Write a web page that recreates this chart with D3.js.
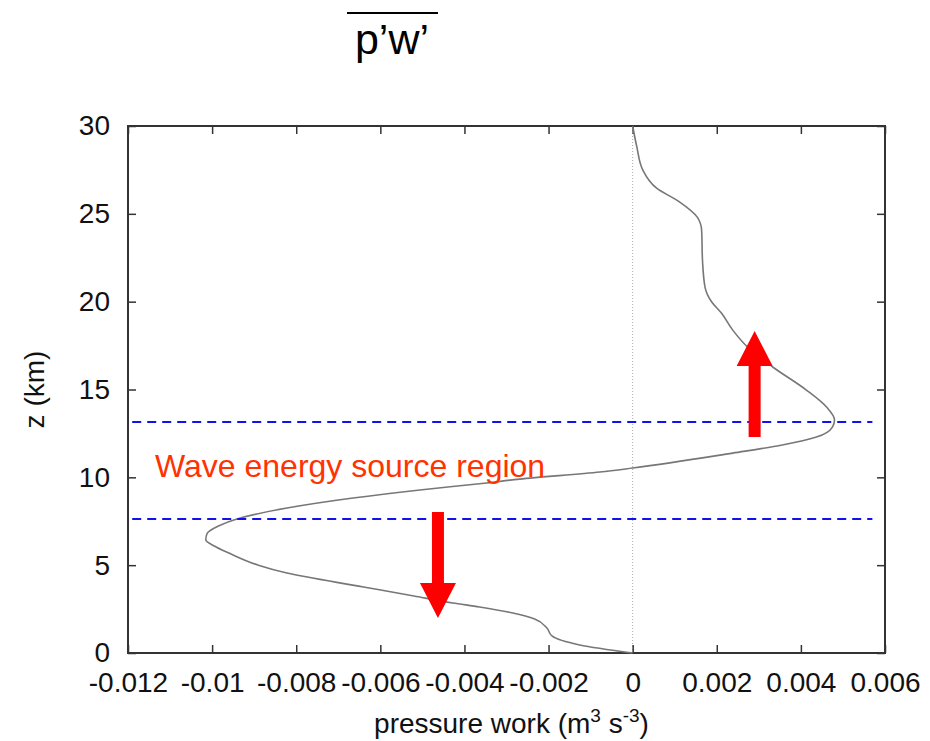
<!DOCTYPE html>
<html>
<head>
<meta charset="utf-8">
<script src="https://cdn.jsdelivr.net/npm/d3@7"></script>
<style>
  html, body { margin: 0; padding: 0; background: #fff; }
  svg { display: block; font-family: "Liberation Sans", Arial, Helvetica, sans-serif; }
</style>
</head>
<body>
<svg id="chart" width="930" height="741"></svg>
<script>
// ---- data ----
const heightKm = [0, 0.46, 0.97, 1.42, 1.94, 2.28, 2.62, 2.85, 3.24, 3.76, 4.55, 5.0, 5.69, 6.09, 6.45, 6.8, 7.23, 7.63, 8.25, 8.82, 9.28, 9.68, 9.9, 10.3, 10.53, 11.38, 11.84, 12.29, 12.86, 13.26, 14.0, 14.97, 16.28, 17.42, 18.38, 19.35, 19.98, 20.83, 22.36, 24.07, 24.8, 25.67, 26.46, 27.5, 28.8, 30];
const pressureWork = [0, -0.00126, -0.00192, -0.00204, -0.00233, -0.00285, -0.00364, -0.00428, -0.0052, -0.0064, -0.00822, -0.0089, -0.0096, -0.00995, -0.01015, -0.01012, -0.00985, -0.00941, -0.00822, -0.00665, -0.00506, -0.00347, -0.00269, -0.00078, 0, 0.00238, 0.00356, 0.00437, 0.00475, 0.0048, 0.00461, 0.00413, 0.00333, 0.00273, 0.00238, 0.00211, 0.00188, 0.00172, 0.00166, 0.00164, 0.00154, 0.00112, 0.00057, 0.00024, 0.0001, 0];
const xTicks = [-0.012, -0.01, -0.008, -0.006, -0.004, -0.002, 0, 0.002, 0.004, 0.006];
const xTickLabels = ["-0.012", "-0.01", "-0.008", "-0.006", "-0.004", "-0.002", "0", "0.002", "0.004", "0.006"];
const yTicks = [0, 5, 10, 15, 20, 25, 30];
const sourceBounds = [7.63, 13.15];          // dashed lines (km)
const arrowX = [0.0029, -0.00463];           // arrow positions (pressure work)
const arrowFrom = [12.29, 8.02];             // arrow tail (km)
const arrowTo = [18.33, 1.99];               // arrow tip (km)
const titleText = "p\u2019w\u2019";
const annotationText = "Wave energy source region";

// ---- layout ----
const svg = d3.select("#chart");
const L = 128, R = 885, T = 126, B = 653;
const x = d3.scaleLinear().domain([-0.012, 0.006]).range([L, R]);
const y = d3.scaleLinear().domain([0, 30]).range([B, T]);

const frameColor = "#333";
const tickLen = 8;

// zero line (dotted)
svg.append("line")
  .attr("x1", x(0)).attr("x2", x(0)).attr("y1", y(0)).attr("y2", y(30))
  .attr("stroke", "#aaa").attr("stroke-width", 1).attr("stroke-dasharray", "1,2");

// axes with inward ticks
const fmt = d => xTickLabels[xTicks.indexOf(d)];
const gB = svg.append("g").attr("transform", `translate(0,${B})`)
  .call(d3.axisBottom(x).tickValues(xTicks).tickFormat(fmt).tickSizeInner(-tickLen).tickSizeOuter(0).tickPadding(19));
const gT = svg.append("g").attr("transform", `translate(0,${T})`)
  .call(d3.axisTop(x).tickValues(xTicks).tickFormat("").tickSizeInner(-tickLen).tickSizeOuter(0));
const gL = svg.append("g").attr("transform", `translate(${L},0)`)
  .call(d3.axisLeft(y).tickValues(yTicks).tickFormat(d3.format("d")).tickSizeInner(-tickLen).tickSizeOuter(0).tickPadding(18));
const gR = svg.append("g").attr("transform", `translate(${R},0)`)
  .call(d3.axisRight(y).tickValues(yTicks).tickFormat("").tickSizeInner(-tickLen).tickSizeOuter(0));
[gB, gT, gL, gR].forEach(g => {
  g.select(".domain").remove();
  g.selectAll(".tick line").attr("stroke", frameColor).attr("stroke-width", 1.5);
  g.selectAll(".tick text").attr("fill", "#111").attr("font-size", 28)
    .attr("font-family", "'Liberation Sans', Arial, sans-serif");
});

// frame
svg.append("rect").attr("x", L).attr("y", T).attr("width", R - L).attr("height", B - T)
  .attr("fill", "none").attr("stroke", frameColor).attr("stroke-width", 2);

// profile curve
const line = d3.line().x(d => x(d[1])).y(d => y(d[0])).curve(d3.curveMonotoneY);
svg.append("path")
  .datum(heightKm.map((h, i) => [h, pressureWork[i]]))
  .attr("d", line).attr("fill", "none").attr("stroke", "#777").attr("stroke-width", 1.6);

// dashed source boundaries
svg.selectAll("line.bound").data(sourceBounds).join("line").attr("class", "bound")
  .attr("x1", x(-0.0119)).attr("x2", x(0.0057))
  .attr("y1", d => y(d)).attr("y2", d => y(d))
  .attr("stroke", "#1010f0").attr("stroke-width", 2).attr("stroke-dasharray", "9,6");

// arrows
const shaftW = 12, headW = 36, headL = 35;
arrowX.forEach((ax, i) => {
  const cx = x(ax), y0 = y(arrowFrom[i]), y1 = y(arrowTo[i]);
  const dir = y1 < y0 ? -1 : 1;
  const yb = y1 - dir * headL;
  const pts = [
    [cx - shaftW / 2, y0], [cx - shaftW / 2, yb], [cx - headW / 2, yb], [cx, y1],
    [cx + headW / 2, yb], [cx + shaftW / 2, yb], [cx + shaftW / 2, y0]
  ];
  svg.append("polygon").attr("points", pts.map(p => p.join(",")).join(" ")).attr("fill", "#ff0000");
});

// annotation
svg.append("text").attr("x", 155).attr("y", 477)
  .attr("font-size", 32).attr("fill", "#ff3300").text(annotationText);

// axis labels
svg.append("text").attr("transform", `translate(44,${(T + B) / 2}) rotate(-90)`)
  .attr("text-anchor", "middle").attr("font-size", 28).attr("fill", "#111").text("z (km)");
const xl = svg.append("text").attr("x", (L + R) / 2 + 5).attr("y", 733)
  .attr("text-anchor", "middle").attr("font-size", 28).attr("fill", "#111");
xl.append("tspan").text("pressure work (m");
xl.append("tspan").attr("font-size", 19).attr("dy", -11).text("3");
xl.append("tspan").attr("dy", 11).text(" s");
xl.append("tspan").attr("font-size", 19).attr("dy", -11).text("-3");
xl.append("tspan").attr("dy", 11).text(")");

// title with overline
svg.append("text").attr("x", 392).attr("y", 54).attr("text-anchor", "middle")
  .attr("font-size", 43).attr("fill", "#000").text(titleText);
svg.append("line").attr("x1", 347).attr("x2", 438).attr("y1", 13).attr("y2", 13)
  .attr("stroke", "#000").attr("stroke-width", 2.2);
</script>
</body>
</html>
